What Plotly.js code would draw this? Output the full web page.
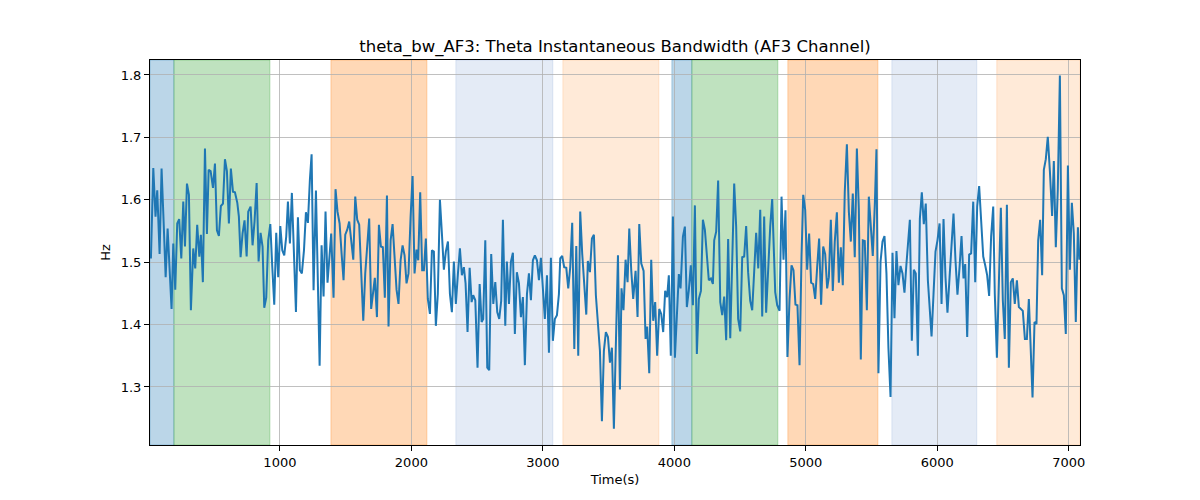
<!DOCTYPE html>
<html>
<head>
<meta charset="utf-8">
<script src="https://cdn.plot.ly/plotly-3.0.1.min.js"></script>
<style>
  html, body { margin: 0; padding: 0; background: #fff; }
  #graph { width: 1200px; height: 500px; }
</style>
</head>
<body>
<div id="graph"></div>
<script>
// sample times (s) and theta bandwidth (Hz) in six pieces
const t1 = [19,37,54,67,85,100,115,131,146,158,176,189,204,219,234,250,265,278,293,308,323,341,356,371,387,399,414,430,445,458,473,491,506,521,536,551,567,582,597,612,627,643,658,676,688,701,716,731,747,759,777,792,807,823,838,853,868,881,896,911,927,942,957,972,987,1003,1018,1033,1048,1061,1076,1091,1106,1122,1137,1152,1167,1183,1198,1213,1228];
const v1 = [1.506,1.651,1.573,1.615,1.513,1.650,1.568,1.476,1.554,1.503,1.425,1.530,1.456,1.562,1.569,1.506,1.597,1.525,1.626,1.608,1.423,1.522,1.490,1.560,1.509,1.544,1.468,1.682,1.545,1.648,1.646,1.619,1.658,1.551,1.542,1.590,1.594,1.665,1.646,1.562,1.650,1.613,1.612,1.595,1.573,1.508,1.546,1.567,1.509,1.581,1.589,1.527,1.565,1.627,1.501,1.547,1.525,1.427,1.443,1.535,1.561,1.492,1.432,1.547,1.476,1.558,1.519,1.511,1.541,1.597,1.530,1.611,1.503,1.420,1.572,1.487,1.482,1.519,1.580,1.563,1.632];

const t2 = [1241,1256,1274,1302,1317,1332,1347,1362,1378,1390,1408,1423,1438,1454,1469,1484,1497,1512,1527,1542,1558,1573,1588,1603,1621,1634,1649,1664,1679,1694,1710,1722,1738,1753,1768,1783,1798,1814,1826,1842,1857,1872,1887,1902,1918,1933,1948,1963,1978,1994,2009,2024,2039,2052,2067,2082,2095,2110,2125,2141,2156,2171,2186,2201,2217,2232,2247,2262,2278,2293,2308,2323,2338,2354,2369,2384,2399];
const v2 = [1.673,1.455,1.615,1.334,1.527,1.445,1.581,1.467,1.509,1.546,1.443,1.617,1.581,1.562,1.514,1.471,1.544,1.552,1.565,1.535,1.504,1.605,1.568,1.560,1.455,1.406,1.482,1.525,1.570,1.425,1.455,1.475,1.412,1.560,1.525,1.524,1.443,1.607,1.397,1.535,1.561,1.514,1.456,1.433,1.503,1.527,1.511,1.466,1.482,1.573,1.638,1.482,1.520,1.503,1.612,1.487,1.487,1.538,1.441,1.417,1.519,1.517,1.398,1.449,1.600,1.546,1.488,1.517,1.533,1.449,1.420,1.501,1.433,1.482,1.522,1.479,1.492];

const t3 = [2412,2427,2443,2458,2470,2486,2503,2519,2534,2546,2562,2577,2592,2607,2623,2638,2653,2668,2683,2696,2714,2726,2742,2757,2772,2787,2802,2818,2833,2848,2863,2879,2894,2909,2924,2939,2955,2970,2985,3000,3015,3031,3046,3061,3076,3091,3107,3122,3132,3147,3162,3178,3193,3208,3223,3239,3254,3269,3284,3299,3315,3330,3342,3358,3373,3388,3403,3418,3434,3449,3464,3479,3495,3510,3525,3540,3555,3571,3586];
const v3 = [1.466,1.388,1.491,1.436,1.447,1.439,1.331,1.465,1.404,1.409,1.535,1.331,1.327,1.513,1.433,1.468,1.420,1.409,1.438,1.568,1.398,1.501,1.433,1.501,1.515,1.385,1.484,1.466,1.412,1.444,1.335,1.449,1.482,1.439,1.503,1.511,1.503,1.471,1.507,1.452,1.409,1.479,1.355,1.507,1.374,1.409,1.415,1.449,1.506,1.510,1.492,1.491,1.458,1.492,1.563,1.361,1.526,1.350,1.581,1.514,1.471,1.416,1.502,1.484,1.538,1.544,1.447,1.406,1.358,1.245,1.358,1.388,1.380,1.339,1.363,1.233,1.372,1.511,1.296];

const t4 = [3598,3613,3629,3644,3657,3672,3687,3705,3720,3733,3748,3766,3781,3793,3809,3824,3839,3854,3869,3885,3900,3915,3930,3945,3958,3973,3989,4004,4019,4034,4047,4065,4080,4095,4110,4125,4141,4156,4171,4186,4202,4217,4232,4247,4262,4278,4293,4303,4318,4333,4349,4364,4379,4394,4409,4425,4440,4455,4470,4485,4501,4516,4531,4546,4561,4577,4592,4607,4622,4638,4653,4668,4683,4698,4714,4729,4744];
const v4 = [1.458,1.423,1.504,1.468,1.554,1.487,1.441,1.486,1.412,1.561,1.498,1.486,1.377,1.397,1.322,1.504,1.406,1.436,1.350,1.425,1.417,1.388,1.454,1.444,1.479,1.350,1.573,1.347,1.413,1.481,1.458,1.541,1.557,1.428,1.455,1.495,1.431,1.591,1.353,1.441,1.454,1.568,1.552,1.514,1.471,1.474,1.465,1.535,1.549,1.631,1.436,1.415,1.445,1.375,1.537,1.378,1.519,1.626,1.557,1.409,1.389,1.508,1.509,1.558,1.484,1.438,1.423,1.482,1.547,1.490,1.584,1.413,1.573,1.419,1.498,1.557,1.601];

const t5 = [4756,4767,4782,4800,4815,4830,4845,4860,4876,4891,4906,4921,4936,4952,4967,4980,4995,5010,5025,5040,5056,5071,5086,5101,5116,5132,5147,5162,5175,5190,5205,5220,5236,5251,5266,5281,5296,5312,5327,5342,5357,5372,5388,5403,5418,5433,5448,5464,5479,5494,5509,5525,5537,5552,5568,5583,5598,5613,5628,5644,5659,5674,5689,5704,5720,5735,5750,5765,5791,5806,5821,5836,5852,5867,5882,5897,5912,5928,5943];
const v5 = [1.535,1.452,1.431,1.422,1.605,1.504,1.583,1.348,1.441,1.495,1.487,1.432,1.431,1.335,1.509,1.608,1.584,1.488,1.546,1.467,1.465,1.441,1.492,1.538,1.432,1.525,1.513,1.458,1.476,1.568,1.454,1.533,1.580,1.467,1.524,1.463,1.613,1.689,1.581,1.533,1.610,1.508,1.682,1.584,1.344,1.535,1.534,1.423,1.605,1.557,1.510,1.595,1.681,1.322,1.501,1.533,1.542,1.482,1.363,1.284,1.515,1.410,1.518,1.463,1.494,1.482,1.451,1.497,1.568,1.374,1.488,1.482,1.350,1.569,1.612,1.561,1.594,1.471,1.417];

const t6 = [5956,5971,5986,6001,6017,6032,6047,6062,6077,6093,6108,6123,6138,6153,6169,6184,6199,6212,6227,6242,6257,6273,6288,6303,6318,6333,6349,6364,6379,6394,6409,6425,6437,6453,6468,6483,6498,6513,6529,6544,6559,6574,6589,6605,6620,6635,6650,6666,6681,6696,6711,6724,6739,6754,6767,6782,6797,6810,6825,6840,6856,6873,6886,6901,6916,6932,6947,6962,6977,6993,7008,7023,7038,7053,7069,7081];
const v6 = [1.381,1.449,1.517,1.535,1.562,1.433,1.569,1.476,1.419,1.476,1.522,1.578,1.503,1.448,1.492,1.542,1.474,1.497,1.380,1.512,1.514,1.597,1.468,1.589,1.622,1.557,1.509,1.495,1.479,1.446,1.541,1.589,1.449,1.347,1.455,1.587,1.439,1.377,1.592,1.331,1.468,1.474,1.433,1.471,1.428,1.425,1.422,1.377,1.377,1.441,1.353,1.283,1.404,1.401,1.535,1.568,1.479,1.648,1.665,1.701,1.646,1.574,1.662,1.524,1.616,1.799,1.458,1.447,1.385,1.655,1.488,1.595,1.546,1.404,1.556,1.504];

// shaded intervals (s) and which band style each one uses
const regionStart = [12, 194, 1388, 2338, 3152, 3981, 4133, 4863, 5654, 6452];
const regionEnd   = [194, 924, 2118, 3076, 3882, 4133, 4787, 5548, 6300, 7085];
const regionKind  = [0, 1, 2, 3, 4, 0, 1, 2, 3, 4];

const xTicks = [1000, 2000, 3000, 4000, 5000, 6000, 7000];
const yTicks = [1.3, 1.4, 1.5, 1.6, 1.7, 1.8];

const times = [].concat(t1, t2, t3, t4, t5, t6);
const bandwidth = [].concat(v1, v2, v3, v4, v5, v6);

const kindColors = [
  'rgba(31,119,180,0.3)',
  'rgba(44,160,44,0.3)',
  'rgba(255,127,14,0.3)',
  'rgba(90,130,200,0.16)',
  'rgba(255,127,14,0.16)'
];

const shapes = regionStart.map(function(s, i) {
  return {
    type: 'rect', xref: 'x', yref: 'paper',
    x0: s, x1: regionEnd[i], y0: 0, y1: 1,
    fillcolor: kindColors[regionKind[i]],
    line: {width: 1, color: kindColors[regionKind[i]]},
    layer: 'below'
  };
});

const trace = {
  x: times,
  y: bandwidth,
  mode: 'lines',
  line: {color: '#1f77b4', width: 2},
  hoverinfo: 'x+y'
};

const font = 'DejaVu Sans, sans-serif';

const axisStyle = {
  showline: true, mirror: true, linecolor: '#000', linewidth: 1,
  ticks: 'outside', ticklen: 5, tickwidth: 1, tickcolor: '#000',
  showgrid: true, gridcolor: '#b0b0b0', gridwidth: 0.8,
  zeroline: false,
  tickfont: {family: font, size: 13, color: '#000'}
};

const layout = {
  width: 1200, height: 500,
  margin: {l: 150, r: 120, t: 60, b: 55, pad: 0},
  paper_bgcolor: '#fff', plot_bgcolor: '#fff',
  showlegend: false,
  title: {
    text: 'theta_bw_AF3: Theta Instantaneous Bandwidth (AF3 Channel)',
    font: {family: font, size: 16.5, color: '#000'},
    x: 0.5125, xanchor: 'center', y: 0.908, yanchor: 'middle'
  },
  xaxis: Object.assign({}, axisStyle, {
    range: [12, 7085],
    tickvals: xTicks,
    ticktext: xTicks.map(String),
    title: {text: 'Time(s)', font: {family: font, size: 13, color: '#000'}, standoff: 6}
  }),
  yaxis: Object.assign({}, axisStyle, {
    range: [1.207, 1.824],
    tickvals: yTicks,
    ticktext: yTicks.map(function(v) { return v.toFixed(1); }),
    title: {text: 'Hz', font: {family: font, size: 13, color: '#000'}, standoff: 7}
  }),
  shapes: shapes
};

Plotly.newPlot('graph', [trace], layout, {displayModeBar: false, staticPlot: true});
</script>
</body>
</html>
